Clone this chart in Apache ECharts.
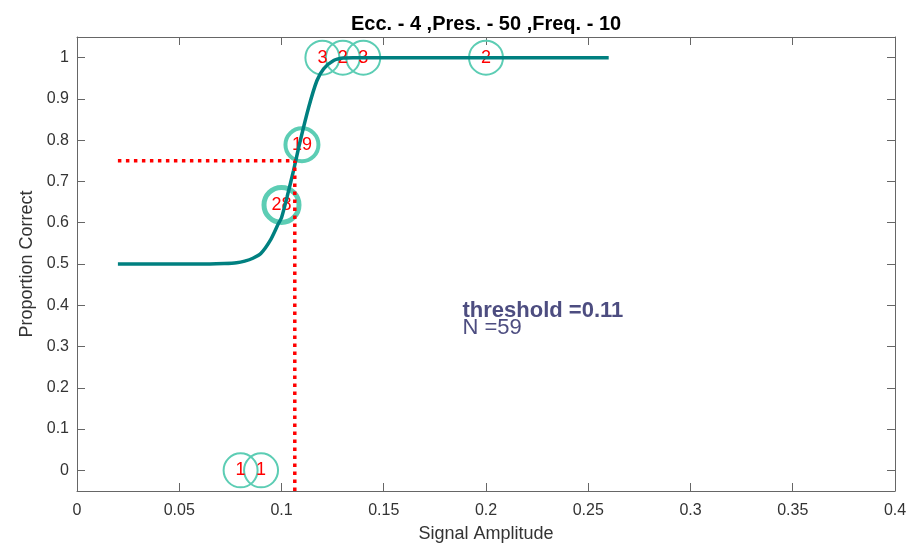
<!DOCTYPE html>
<html>
<head>
<meta charset="utf-8">
<script src="https://cdn.jsdelivr.net/npm/echarts@6/dist/echarts.min.js"></script>
<style>
html,body{margin:0;padding:0;background:#fff;}
#chart{width:912px;height:551px;}
</style>
</head>
<body>
<div id="chart"></div>
<script>
// ---- data ----
const titleText = 'Ecc. - 4 ,Pres. - 50 ,Freq. - 10';
const xTicks = [0, 0.05, 0.1, 0.15, 0.2, 0.25, 0.3, 0.35, 0.4];
const yTicks = [0, 0.1, 0.2, 0.3, 0.4, 0.5, 0.6, 0.7, 0.8, 0.9, 1];
// observed points: stimulus level, proportion correct, trial count
const levels = [0.08, 0.09, 0.10, 0.11, 0.12, 0.13, 0.14, 0.20];
const propCorrect = [0, 0, 0.643, 0.789, 1, 1, 1, 1];
const counts = [1, 1, 28, 19, 3, 2, 3, 2];
// fitted psychometric curve
const curveX = [0.02, 0.05, 0.065, 0.072, 0.078, 0.082, 0.086, 0.09, 0.0945, 0.0985, 0.1, 0.1027, 0.1059, 0.109, 0.1133, 0.1173, 0.1206, 0.1255, 0.13, 0.135, 0.16, 0.26];
const curveY = [0.5, 0.5, 0.5, 0.501, 0.503, 0.507, 0.514, 0.526, 0.557, 0.598, 0.612, 0.662, 0.727, 0.795, 0.88, 0.944, 0.973, 0.993, 0.999, 1, 1, 1];
const threshold = 0.1065;
const thresholdLevel = 0.75;
const thresholdLineStart = 0.02;
const thresholdLabel = '0.11';

// ---- build ----
const N = counts.reduce((a, b) => a + b, 0);
const FONT = 'Liberation Sans, Arial, Helvetica, sans-serif';
const X_MIN = 0, X_MAX = 0.4, Y_MIN = -0.05, Y_MAX = 1.05;

const fmt = v => String(parseFloat(Number(v).toFixed(4)));

const scatterData = levels.map((x, i) => ({
  value: [x, propCorrect[i], counts[i]],
  itemStyle: { borderWidth: counts[i] >= 20 ? 5 : (counts[i] >= 10 ? 4 : 2) },
  symbolSize: counts[i] >= 20 ? 35 : (counts[i] >= 10 ? 33 : 34)
}));

const axisLineStyle = { color: '#666', width: 1 };

const option = {
  animation: false,
  backgroundColor: '#fff',
  title: {
    text: titleText,
    left: 346, top: 9,
    textStyle: { fontFamily: FONT, fontSize: 20, fontWeight: 'bold', color: '#000' }
  },
  grid: { left: 77, right: 17, top: 37, bottom: 60, containLabel: false },
  xAxis: [{
    type: 'value', min: X_MIN, max: X_MAX, interval: 0.05,
    position: 'bottom',
    name: 'Signal Amplitude', nameLocation: 'middle', nameGap: 34,
    nameTextStyle: { fontFamily: FONT, fontSize: 18, color: '#333' },
    axisLine: { show: true, onZero: false, lineStyle: axisLineStyle },
    axisTick: { show: true, inside: true, length: 8, lineStyle: axisLineStyle },
    axisLabel: { show: true, margin: 12, fontFamily: FONT, fontSize: 16, color: '#333', formatter: fmt },
    splitLine: { show: false }
  }, {
    type: 'value', min: X_MIN, max: X_MAX, interval: 0.05,
    position: 'top',
    axisLine: { show: true, onZero: false, lineStyle: axisLineStyle },
    axisTick: { show: true, inside: true, length: 8, lineStyle: axisLineStyle },
    axisLabel: { show: false },
    splitLine: { show: false }
  }],
  yAxis: [{
    type: 'value', min: Y_MIN, max: Y_MAX,
    position: 'left',
    name: 'Proportion Correct', nameLocation: 'middle', nameGap: 37,
    nameTextStyle: { fontFamily: FONT, fontSize: 18, color: '#333' },
    axisLine: { show: true, onZero: false, lineStyle: axisLineStyle },
    axisTick: { show: true, inside: true, length: 8, lineStyle: axisLineStyle, customValues: yTicks },
    axisLabel: { show: true, margin: 8, fontFamily: FONT, fontSize: 16, color: '#333', customValues: yTicks, formatter: fmt },
    splitLine: { show: false }
  }, {
    type: 'value', min: Y_MIN, max: Y_MAX,
    position: 'right',
    axisLine: { show: true, onZero: false, lineStyle: axisLineStyle },
    axisTick: { show: true, inside: true, length: 8, lineStyle: axisLineStyle, customValues: yTicks },
    axisLabel: { show: false, customValues: yTicks },
    splitLine: { show: false }
  }],
  series: [
    {
      type: 'scatter', name: 'data', z: 2,
      data: scatterData,
      symbol: 'circle',
      itemStyle: { color: 'rgba(0,0,0,0)', borderColor: '#5ccdb4', opacity: 1 },
      label: {
        show: true, position: 'inside', opacity: 1,
        formatter: p => String(p.value[2]),
        fontFamily: FONT, fontSize: 18, color: '#ff0000'
      },
      emphasis: { disabled: true }
    },
    {
      type: 'line', name: 'fit', z: 3,
      data: curveX.map((x, i) => [x, curveY[i]]),
      smooth: 0.25, showSymbol: false, symbol: 'none',
      lineStyle: { color: '#008080', width: 3.5 }
    },
    {
      type: 'line', name: 'thrH', z: 4,
      data: [[thresholdLineStart, thresholdLevel], [threshold, thresholdLevel]],
      showSymbol: false, symbol: 'none',
      lineStyle: { color: '#ff0000', width: 3.5, type: [3.5, 4.5], cap: 'butt' }
    },
    {
      type: 'line', name: 'thrV', z: 4,
      data: [[threshold, Y_MIN], [threshold, thresholdLevel]],
      showSymbol: false, symbol: 'none',
      lineStyle: { color: '#ff0000', width: 3.5, type: [3.5, 4.5], cap: 'butt' }
    },
    {
      type: 'scatter', name: 'annot', z: 5,
      symbolSize: 0,
      itemStyle: { opacity: 1 },
      data: [
        { value: [0.1885, 0.386], label: { formatter: 'threshold =' + thresholdLabel, fontWeight: 'bold' } },
        { value: [0.1885, 0.346], label: { formatter: 'N =' + N, fontWeight: 'normal' } }
      ],
      label: {
        show: true, position: [0, 0], align: 'left', verticalAlign: 'middle', opacity: 1,
        fontFamily: FONT, fontSize: 22, color: '#4d4d80'
      },
      emphasis: { disabled: true }
    }
  ]
};

const chart = echarts.init(document.getElementById('chart'), null, { renderer: 'canvas' });
chart.setOption(option);
</script>
</body>
</html>
